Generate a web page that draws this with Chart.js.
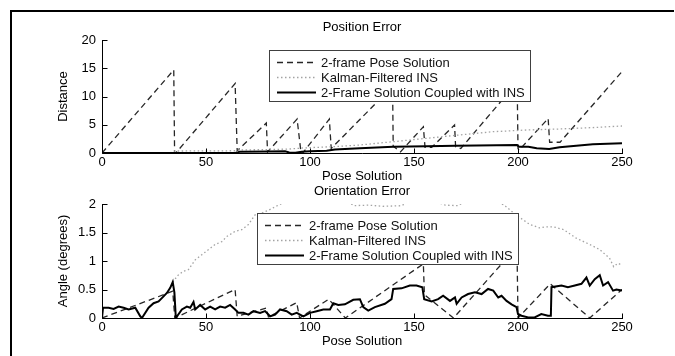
<!DOCTYPE html>
<html><head><meta charset="utf-8">
<script src="https://cdn.jsdelivr.net/npm/chart.js@4.4.1/dist/chart.umd.min.js"></script>
<style>
html,body{margin:0;padding:0;background:#fff;}
#wrap{position:relative;width:675px;height:356px;overflow:hidden;background:#fff;}
#frame{position:absolute;left:10px;top:10px;width:662px;height:346px;border-top:2px solid #000;border-left:2px solid #000;}
canvas{position:absolute;left:0;}
#c1{top:0;} #c2{top:178px;}
</style></head><body>
<div id="wrap"><div id="frame"></div>
<canvas id="c1" width="675" height="184"></canvas>
<canvas id="c2" width="675" height="178"></canvas>
</div>
<script>
// ---------- data ----------
const xTicks = [0, 50, 100, 150, 200, 250];
const distanceTicks = [0, 5, 10, 15, 20];
const angleTicks = [0, 0.5, 1, 1.5, 2];
const seriesNames = ['2-frame Pose Solution', 'Kalman-Filtered INS', '2-Frame Solution Coupled with INS'];

// Position Error (x = pose solution, y = distance)
const posTwoFrame = [[0,0],[34.5,14.7],[34.9,0],[35.5,0],[64,12.3],[64.5,6.3],[65,0.4],[79,5.3],[79.6,0.2],[93.8,6.0],[95.7,0],[96.5,0],[109.3,6.0],[110.2,0.8],[139.7,11.8],[140,1.2],[143.5,0.2],[154.5,4.65],[155.3,1.0],[158.5,1.0],[169.5,4.96],[170,1.1],[172.5,0.8],[199.6,12.5],[200,0.8],[200.5,0.5],[214.5,6.1],[215.2,1.9],[220.2,1.9],[250,14.4]];
const posKalman = [[0,0],[33,0.05],[35,0.35],[64,0.4],[66,0.55],[80,0.6],[90,0.7],[97,0.9],[110,1.1],[124,1.42],[140,2.0],[156,2.6],[172,3.2],[188,3.77],[204,4.07],[220,4.25],[236,4.5],[250,4.78]];
const posCoupled = [[0,0],[64,0],[65.5,0.1],[66,0.2],[80,0.25],[88,0.3],[90,0.1],[93,0.05],[96,0.2],[100,0.3],[108,0.4],[112,0.6],[124,0.83],[140,1.12],[156,1.2],[170,1.3],[199.5,1.42],[200.5,1.12],[205,1.1],[209,0.83],[215,0.7],[220,1.0],[228,1.3],[236,1.53],[250,1.71]];

// Orientation Error (x = pose solution, y = angle in degrees)
const oriTwoFrame = [[0,0],[34,0.47],[35,0],[64,0.5],[65,0.03],[79,0.175],[80,0.02],[93.6,0.27],[95,0],[109,0.33],[117,0],[154.5,0.95],[155,0.41],[169,0],[199.5,1.25],[200,0],[215.5,0.6],[234.5,0],[250,0.5]];
const oriKalman = [[34,0.63],[36.8,0.76],[39.2,0.82],[41.6,0.85],[44.8,1.02],[48,1.11],[51.2,1.2],[54.4,1.29],[57.6,1.34],[60,1.43],[64,1.52],[67.2,1.55],[70.4,1.64],[73.6,1.81],[76.8,1.84],[80,1.89],[83.2,1.95],[86,2.0],[90,2.1],[100,2.2],[110,2.15],[118,2.05],[121,1.97],[128,1.98],[135,1.96],[144,1.97],[148,2.05],[155,2.1],[162,2.02],[165,1.98],[171,1.97],[175,2.05],[182,2.1],[189,2.03],[193,1.99],[199,1.81],[205.7,1.64],[210.5,1.58],[213,1.6],[217,1.6],[222,1.55],[228,1.4],[234.5,1.29],[239.3,1.2],[244,1.05],[246,0.9],[248,0.96],[250,0.93]];
const oriCoupled = [[0,0],[0.5,0.18],[3.2,0.18],[5.6,0.16],[8,0.2],[10.4,0.18],[12.8,0.15],[16,0.18],[18.4,0.03],[19.2,0],[22.4,0.18],[24.8,0.26],[27.2,0.29],[29.6,0.38],[31.2,0.44],[32.8,0.53],[34,0.63],[34.8,0.45],[35.5,0],[38.4,0.15],[40.8,0.2],[42.4,0.18],[44,0.28],[44.8,0.15],[47.2,0.23],[49.6,0.15],[52,0.2],[54.4,0.15],[56.8,0.2],[59.2,0.18],[61.6,0.23],[64,0.15],[65.6,0.09],[68,0.09],[70.4,0.06],[72.8,0.12],[76,0.09],[78.4,0.12],[80.8,0.03],[83.2,0.06],[85.6,0.15],[88.8,0.12],[91.2,0.06],[93.6,0.09],[96.8,0.03],[100,0.09],[103.2,0.12],[106.4,0.15],[109.6,0.15],[111.2,0.26],[113.6,0.23],[116.8,0.24],[120.8,0.32],[124,0.33],[125.6,0.19],[128,0.13],[131.2,0.19],[136,0.25],[139.2,0.33],[140,0.51],[144,0.52],[148,0.57],[151.2,0.57],[154,0.54],[154.9,0.33],[158.5,0.29],[161.6,0.33],[164,0.39],[167.3,0.3],[169.7,0.36],[170.5,0.25],[172.9,0.36],[176,0.42],[179.3,0.45],[182.5,0.42],[185.6,0.51],[188.1,0.48],[190.5,0.36],[192.1,0.39],[194.5,0.3],[196.9,0.24],[199.3,0.19],[200,0.07],[201.7,0.04],[204.9,0.01],[208,0.01],[211.2,0.07],[214.4,0.04],[215.8,0.04],[216.1,0.54],[220.9,0.57],[224,0.54],[227.3,0.57],[230.5,0.6],[232.9,0.71],[234.5,0.57],[236.9,0.68],[239.3,0.75],[240.9,0.57],[243.3,0.63],[245.7,0.48],[247.3,0.5],[250,0.48]];

// ---------- styling ----------
const FONT = "'Liberation Sans', Arial, Helvetica, sans-serif";
Chart.defaults.font.family = FONT;
Chart.defaults.font.size = 13;
Chart.defaults.color = '#000';

const seriesStyles = [
  {borderColor: '#262626', borderWidth: 1.3, borderDash: [6, 4], order: 2},
  {borderColor: '#a3a3a3', borderWidth: 1.3, borderDash: [1.5, 2.5], order: 1},
  {borderColor: '#000000', borderWidth: 2, borderDash: [], order: 0}
];

const decor = {
  id: 'decor',
  afterDatasetsDraw(chart, args, o) {
    const ctx = chart.ctx, ca = chart.chartArea;
    const bx = Math.round(ca.left + o.legendDx), by = Math.round(ca.top + o.legendDy);
    const bw = 261, bh = 51;
    ctx.save();
    ctx.setLineDash([]);
    ctx.fillStyle = '#fff';
    ctx.fillRect(bx, by, bw, bh);
    ctx.strokeStyle = '#404040';
    ctx.lineWidth = 1;
    ctx.strokeRect(bx + 0.5, by + 0.5, bw, bh);
    ctx.font = '13px ' + FONT;
    ctx.textAlign = 'left';
    ctx.textBaseline = 'middle';
    chart.data.datasets.forEach((ds, i) => {
      const ry = Math.round(by + 11.5 + 15.3 * i) + 0.5;
      ctx.beginPath();
      ctx.strokeStyle = ds.borderColor;
      ctx.lineWidth = ds.borderWidth;
      ctx.setLineDash(ds.borderDash || []);
      ctx.moveTo(bx + 8, ry);
      ctx.lineTo(bx + 47, ry);
      ctx.stroke();
      ctx.setLineDash([]);
      ctx.fillStyle = '#111';
      ctx.fillText(ds.label, bx + 52, ry + 0.5);
    });
    ctx.restore();
  },
  afterDraw(chart, args, o) {
    const ctx = chart.ctx, ca = chart.chartArea;
    const xs = chart.scales.x, ys = chart.scales.y;
    ctx.save();
    ctx.setLineDash([]);
    ctx.strokeStyle = '#000';
    ctx.lineWidth = 1;
    const L = Math.round(ca.left) + 0.5, B = Math.round(ca.bottom) + 0.5;
    ctx.beginPath();
    ctx.moveTo(L, Math.round(ca.top));
    ctx.lineTo(L, B);
    ctx.lineTo(Math.round(ca.right) + 1, B);
    ctx.stroke();
    ctx.beginPath();
    xs.ticks.forEach(t => {
      const px = Math.round(xs.getPixelForValue(t.value)) + 0.5;
      ctx.moveTo(px, B); ctx.lineTo(px, B - 5);
    });
    ys.ticks.forEach(t => {
      const py = Math.round(ys.getPixelForValue(t.value)) + 0.5;
      ctx.moveTo(L, py); ctx.lineTo(L + 5, py);
    });
    ctx.stroke();
    ctx.fillStyle = '#000';
    ctx.font = '13px ' + FONT;
    ctx.textAlign = 'center';
    ctx.textBaseline = 'middle';
    ctx.fillText(o.title, (ca.left + ca.right) / 2, ca.top - 13);
    ctx.restore();
  }
};

function makeChart(id, cfg) {
  const datasets = cfg.series.map((pts, i) => Object.assign({
    label: seriesNames[i],
    data: pts.map(p => ({x: p[0], y: p[1]})),
    pointRadius: 0,
    tension: 0,
    fill: false,
    borderCapStyle: 'butt',
    borderJoinStyle: 'miter'
  }, seriesStyles[i]));
  return new Chart(document.getElementById(id), {
    type: 'line',
    data: {datasets},
    plugins: [decor],
    options: {
      responsive: false,
      animation: false,
      devicePixelRatio: 1,
      layout: {padding: {left: 56, right: 53, top: cfg.top, bottom: cfg.bottomPad}},
      plugins: {
        legend: {display: false},
        tooltip: {enabled: false},
        decor: {title: cfg.title, legendDx: cfg.legendDx, legendDy: cfg.legendDy}
      },
      scales: {
        x: {
          type: 'linear', min: 0, max: 250,
          afterBuildTicks: s => { s.ticks = xTicks.map(v => ({value: v})); },
          afterFit: s => { s.height = cfg.xHeight; },
          grid: {display: false, drawTicks: false},
          border: {display: false},
          ticks: {padding: 2, maxRotation: 0, autoSkip: false, color: '#000', callback: v => String(v)},
          title: {display: true, text: 'Pose Solution', padding: {top: 0, bottom: 0}, color: '#000'}
        },
        y: {
          type: 'linear', min: cfg.yTicks[0], max: cfg.yTicks[cfg.yTicks.length - 1],
          afterBuildTicks: s => { s.ticks = cfg.yTicks.map(v => ({value: v})); },
          afterFit: s => { s.width = 46; },
          grid: {display: false, drawTicks: false},
          border: {display: false},
          ticks: {padding: 6, autoSkip: false, color: '#000', callback: v => String(v)},
          title: {display: true, text: cfg.yTitle, padding: {top: 0, bottom: 0}, color: '#000'}
        }
      }
    }
  });
}

makeChart('c1', {
  series: [posTwoFrame, posKalman, posCoupled],
  yTicks: distanceTicks, yTitle: 'Distance', title: 'Position Error',
  top: 40, bottomPad: 0, xHeight: 31, legendDx: 167, legendDy: 10
});
makeChart('c2', {
  series: [oriTwoFrame, oriKalman, oriCoupled],
  yTicks: angleTicks, yTitle: 'Angle (degrees)', title: 'Orientation Error',
  top: 26, bottomPad: 7, xHeight: 31, legendDx: 155, legendDy: 9
});
</script>
</body></html>
